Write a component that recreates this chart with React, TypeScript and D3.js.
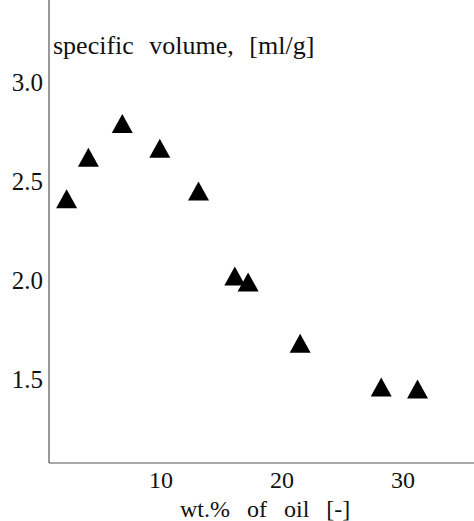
import React from 'react';
import { scaleLinear, line } from 'd3';

const oil = [2.2, 4.0, 6.8, 9.9, 13.1, 16.1, 17.2, 21.5, 28.2, 31.2];
const volume = [2.41, 2.62, 2.79, 2.665, 2.45, 2.02, 1.99, 1.68, 1.46, 1.45];
const xTicks = [10, 20, 30];
const yTicks = ['3.0', '2.5', '2.0', '1.5'];

const W = 474;
const H = 521;
const font = "'Liberation Serif', 'DejaVu Serif', 'Times New Roman', serif";

export default function App() {
  const left = 49;
  const bottom = 463;

  const x = scaleLinear().domain([10, 30]).range([161, 403]);
  const y = scaleLinear().domain([1.5, 3.0]).range([379, 82]);

  // triangle marker, 21 wide x 19 tall, centred on the point
  const tri = line()([
    [-10.5, 9.5],
    [0, -9.5],
    [10.5, 9.5],
  ]) + 'Z';

  const txt = { fontFamily: font, fill: '#111' };

  return (
    <svg
      width={W}
      height={H}
      viewBox={`0 0 ${W} ${H}`}
      style={{ position: 'absolute', left: 0, top: 0, background: '#fff' }}
    >
      {/* axes */}
      <line x1={left} x2={left} y1={0} y2={bottom} stroke="#555" strokeWidth={1.2} />
      <line x1={left} x2={W} y1={bottom} y2={bottom} stroke="#555" strokeWidth={1.2} />

      {yTicks.map(t => (
        <text key={t} x={43} y={y(+t) + 9} textAnchor="end" fontSize={25} style={txt}>
          {t}
        </text>
      ))}
      {xTicks.map(t => (
        <text key={t} x={x(t)} y={bottom + 25} textAnchor="middle" fontSize={24} style={txt}>
          {t}
        </text>
      ))}

      <text x={53} y={54} fontSize={26} style={{ ...txt, wordSpacing: 9 }}>
        specific volume, [ml/g]
      </text>
      <text x={180} y={517} fontSize={24} style={{ ...txt, wordSpacing: 11 }}>
        wt.% of oil [-]
      </text>

      {oil.map((d, i) => (
        <path key={i} d={tri} transform={`translate(${x(d)},${y(volume[i])})`} fill="#000" />
      ))}
    </svg>
  );
}
